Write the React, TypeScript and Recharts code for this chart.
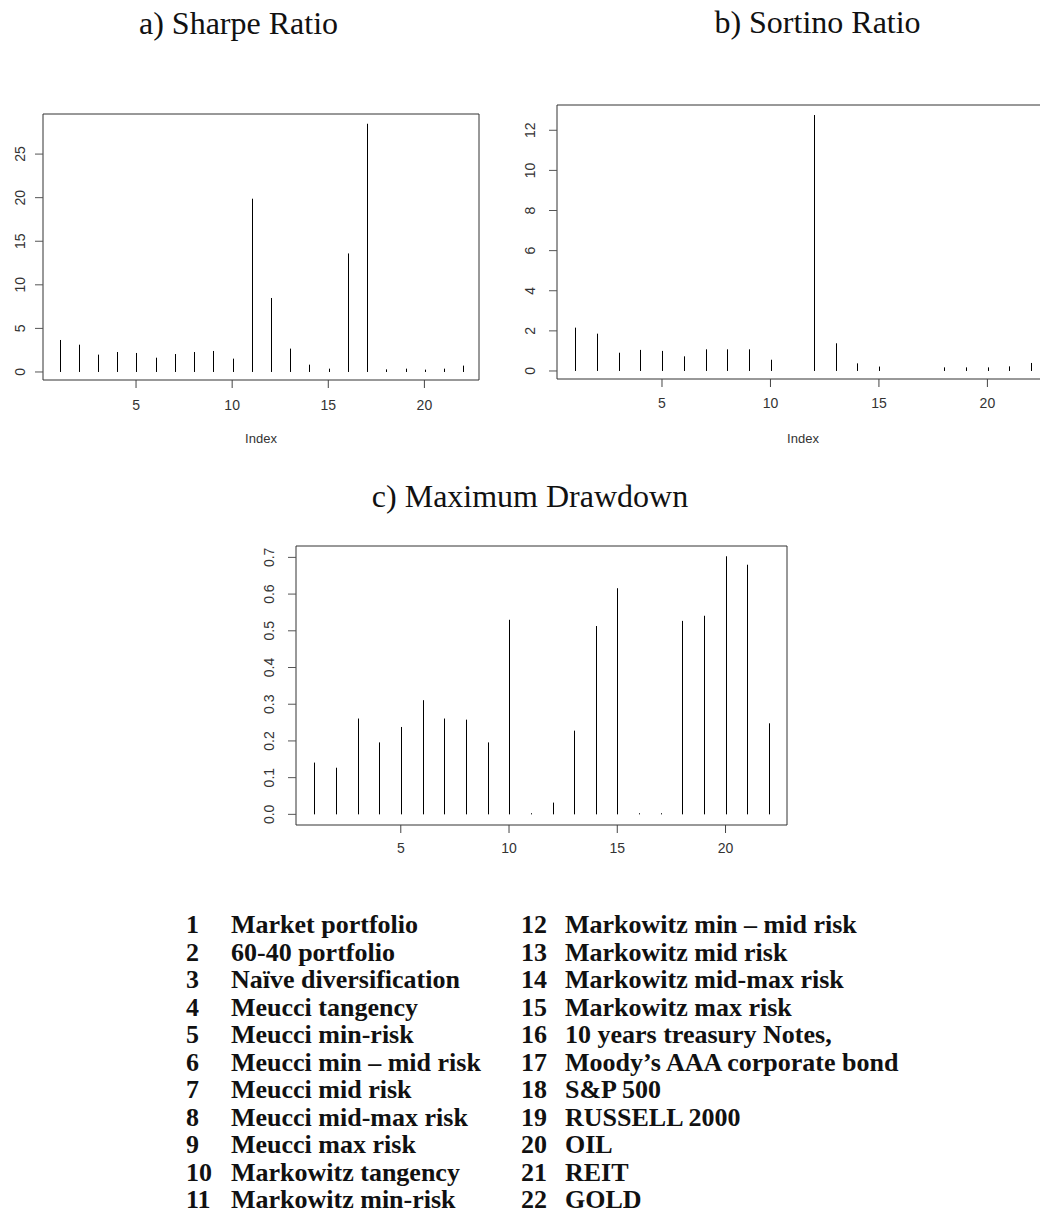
import React from 'react'
import { BarChart, Bar, XAxis, YAxis, ReferenceArea } from 'recharts'

// portfolio index 1..22
const INDEX = [1, 2, 3, 4, 5, 6, 7, 8, 9, 10, 11, 12, 13, 14, 15, 16, 17, 18, 19, 20, 21, 22]

const SHARPE = [3.67, 3.13, 1.99, 2.29, 2.18, 1.64, 2.06, 2.29, 2.41, 1.53, 19.88, 8.49, 2.68, 0.84, 0.38, 13.6, 28.48, 0.3, 0.38, 0.27, 0.38, 0.73]
const SORTINO = [2.16, 1.86, 0.91, 1.05, 1.0, 0.73, 1.08, 1.08, 1.08, 0.56, 0, 12.76, 1.38, 0.38, 0.22, 0, 0, 0.18, 0.18, 0.18, 0.23, 0.4]
const MAX_DD = [0.141, 0.127, 0.261, 0.196, 0.238, 0.311, 0.261, 0.258, 0.196, 0.53, 0.003, 0.032, 0.228, 0.513, 0.616, 0.003, 0.003, 0.527, 0.541, 0.703, 0.68, 0.248]

const X_TICKS = [5, 10, 15, 20]
const SHARPE_TICKS = [0, 5, 10, 15, 20, 25]
const SORTINO_TICKS = [0, 2, 4, 6, 8, 10, 12]
const DD_TICKS = [0, 0.1, 0.2, 0.3, 0.4, 0.5, 0.6, 0.7]

const NAMES = [
  'Market portfolio',
  '60-40 portfolio',
  'Naïve diversification',
  'Meucci tangency',
  'Meucci min-risk',
  'Meucci min – mid risk',
  'Meucci mid risk',
  'Meucci mid-max risk',
  'Meucci max risk',
  'Markowitz tangency',
  'Markowitz min-risk',
  'Markowitz min – mid risk',
  'Markowitz mid risk',
  'Markowitz mid-max risk',
  'Markowitz max risk',
  '10 years treasury Notes,',
  'Moody’s AAA corporate bond',
  'S&P 500',
  'RUSSELL 2000',
  'OIL',
  'REIT',
  'GOLD',
]

const X_DOMAIN: [number, number] = [0.16, 22.84]
const SANS = '"Liberation Sans", Arial, sans-serif'
const SERIF = '"Liberation Serif", "Times New Roman", serif'
const TICK_FONT = 14

function Stem(props: any) {
  const { x, y, width, height } = props
  if (!height || height <= 0) return null
  const cx = Math.round(x + width / 2) + 0.5
  return <line x1={cx} x2={cx} y1={y} y2={y + height} stroke="#000" strokeWidth={1} />
}

interface PanelProps {
  values: number[]
  yTicks: number[]
  yDomain: [number, number]
  box: { l: number; t: number; r: number; b: number }
  yLabelCx: number
  tickMargin: number
  fmt?: (v: number) => string
}

function Panel({ values, yTicks, yDomain, box, yLabelCx, tickMargin, fmt }: PanelProps) {
  const data = INDEX.map((idx, i) => ({ idx, v: values[i] }))
  const top = box.t - 20
  const width = box.r + 20
  const height = box.b - box.t + 20 + 60

  const YTick = (p: any) => {
    const label = fmt ? fmt(p.payload.value) : String(p.payload.value)
    return (
      <text
        transform={`translate(${yLabelCx + TICK_FONT * 0.36}, ${p.y}) rotate(-90)`}
        textAnchor="middle"
        fontSize={TICK_FONT}
        fontFamily={SANS}
        fill="#333"
      >
        {label}
      </text>
    )
  }

  return (
    <div style={{ position: 'absolute', left: 0, top }}>
      <BarChart
        width={width}
        height={height}
        data={data}
        margin={{ top: 20, right: 20, left: 0, bottom: 0 }}
      >
        <XAxis
          dataKey="idx"
          type="number"
          domain={X_DOMAIN}
          ticks={X_TICKS}
          height={60}
          axisLine={false}
          tickSize={8}
          tickMargin={tickMargin}
          tickLine={{ stroke: '#444' }}
          tick={{ fill: '#333', fontSize: TICK_FONT, fontFamily: SANS }}
          interval={0}
        />
        <YAxis
          type="number"
          domain={yDomain}
          ticks={yTicks}
          width={box.l}
          axisLine={false}
          tickSize={8}
          tickLine={{ stroke: '#555' }}
          tick={YTick}
          interval={0}
          allowDataOverflow
        />
        <ReferenceArea
          x1={X_DOMAIN[0]}
          x2={X_DOMAIN[1]}
          y1={yDomain[0]}
          y2={yDomain[1]}
          fill="none"
          fillOpacity={0}
          stroke="#333"
          strokeWidth={1}
          ifOverflow="visible"
        />
        <Bar dataKey="v" barSize={2} shape={Stem} isAnimationActive={false} />
      </BarChart>
    </div>
  )
}

export default function App() {
  const rowGap = 27.5
  const firstBaseline = 933
  return (
    <div
      style={{
        position: 'absolute',
        left: 0,
        top: 0,
        width: 1040,
        height: 1213,
        overflow: 'hidden',
        background: '#fff',
      }}
    >
      <Panel
        values={SHARPE}
        yTicks={SHARPE_TICKS}
        yDomain={[-0.92, 29.6]}
        box={{ l: 43, t: 114, r: 479, b: 380 }}
        yLabelCx={20}
        tickMargin={12}
      />
      <Panel
        values={SORTINO}
        yTicks={SORTINO_TICKS}
        yDomain={[-0.4, 13.26]}
        box={{ l: 557, t: 105, r: 1049, b: 379 }}
        yLabelCx={529.5}
        tickMargin={11}
      />
      <Panel
        values={MAX_DD}
        yTicks={DD_TICKS}
        yDomain={[-0.029, 0.731]}
        box={{ l: 296, t: 546, r: 787, b: 825 }}
        yLabelCx={268.5}
        tickMargin={10}
        fmt={(v) => v.toFixed(1)}
      />

      <svg
        width={1040}
        height={1213}
        style={{ position: 'absolute', left: 0, top: 0, pointerEvents: 'none' }}
      >
        <g fontFamily={SERIF} fontSize={32} fill="#111" textAnchor="middle">
          <text x={238.5} y={34}>a) Sharpe Ratio</text>
          <text x={817.5} y={33}>b) Sortino Ratio</text>
          <text x={530} y={507}>c) Maximum Drawdown</text>
        </g>
        <g fontFamily={SANS} fontSize={13} fill="#333" textAnchor="middle">
          <text x={261} y={443}>Index</text>
          <text x={803} y={443}>Index</text>
        </g>
        <g fontFamily={SERIF} fontSize={26} fontWeight="bold" fill="#111">
          {INDEX.map((n, i) => {
            const col = i < 11 ? 0 : 1
            const row = i % 11
            const numX = col === 0 ? 186 : 521
            const txtX = col === 0 ? 231 : 565
            const y = firstBaseline + row * rowGap
            return (
              <g key={n}>
                <text x={numX} y={y}>{n}</text>
                <text x={txtX} y={y}>{NAMES[i]}</text>
              </g>
            )
          })}
        </g>
      </svg>
    </div>
  )
}
